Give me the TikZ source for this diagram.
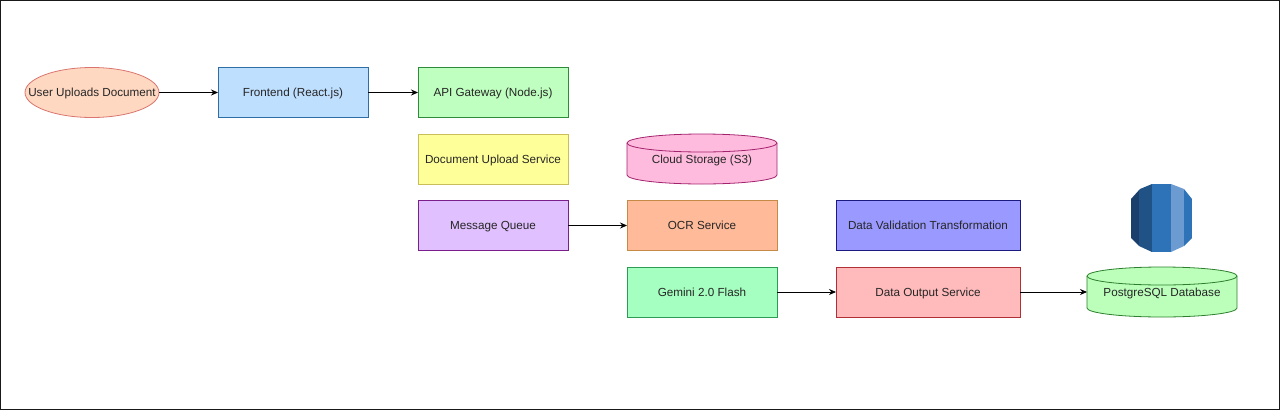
\documentclass[tikz,border=0pt]{standalone}
\usepackage{fontspec}
\setmainfont{Liberation Sans}
\usepackage{tikz}
\usetikzlibrary{backgrounds, positioning, shapes.geometric, arrows.meta}
\definecolor{icondark}{HTML}{1B3F6B}
\definecolor{iconmid}{HTML}{205286}
\definecolor{iconblue}{HTML}{2E73B8}
\definecolor{iconlight}{HTML}{6C9BD2}
\definecolor{userfill}{HTML}{FFD8C2}
\definecolor{userline}{HTML}{D9756E}
\definecolor{frontfill}{HTML}{BFDFFF}
\definecolor{frontline}{HTML}{2F6EA5}
\definecolor{apifill}{HTML}{BFFFBF}
\definecolor{apiline}{HTML}{2E8B3A}
\definecolor{uploadfill}{HTML}{FFFF99}
\definecolor{uploadline}{HTML}{C9BE5A}
\definecolor{queuefill}{HTML}{E0C0FF}
\definecolor{queueline}{HTML}{7B1F8C}
\definecolor{cloudfill}{HTML}{FFBBDD}
\definecolor{cloudline}{HTML}{A3226E}
\definecolor{ocrfill}{HTML}{FFBB99}
\definecolor{ocrline}{HTML}{C58A45}
\definecolor{geminifill}{HTML}{A5FFC0}
\definecolor{geminiline}{HTML}{2E9B55}
\definecolor{validfill}{HTML}{9999FF}
\definecolor{validline}{HTML}{1A1A80}
\definecolor{outputfill}{HTML}{FFBBBB}
\definecolor{outputline}{HTML}{B03035}
\definecolor{pgfill}{HTML}{BBFFBB}
\definecolor{pgline}{HTML}{2D7F2D}
\tikzset{
  boxnode/.style={draw, line width=0.8pt, minimum width=150pt, minimum height=50pt, inner sep=0pt, outer sep=0pt,
                  text height=8.5pt, text depth=0pt, font=\fontsize{11.7}{14}\selectfont, text=black!85},
  dbnode/.style={boxnode, draw=none},
  dbshape/.style={line width=0.8pt},
  link/.style={-{Stealth[length=7pt,width=6pt]}, line width=0.8pt, black}
}
% cylinder behind a named node: node, stroke, fill
\newcommand{\dbdraw}[3]{
  \draw[dbshape, draw=#2, fill=#3] ([yshift=-9pt]#1.north west)
    arc[start angle=180, end angle=0, x radius=75pt, y radius=9pt]
    -- ([yshift=9pt]#1.south east)
    arc[start angle=0, end angle=-180, x radius=75pt, y radius=9pt] -- cycle;
  \draw[dbshape, draw=#2] ([yshift=-9pt]#1.north west)
    arc[start angle=180, end angle=360, x radius=75pt, y radius=9pt];
}
\begin{document}
\begin{tikzpicture}[x=1pt, y=1pt]
\useasboundingbox (0,0) rectangle (1280,-410);
\node[draw=black!90, line width=1.4pt, minimum width=1279pt, minimum height=409pt, inner sep=0pt] (frame) at (640,-205) {};
\node[boxnode, ellipse, inner xsep=-18pt, draw=userline, fill=userfill, minimum width=134pt] (user) at (92,-92.5) {User Uploads Document};
%
\node[boxnode, draw=frontline, fill=frontfill, right=59pt of user] (front) {Frontend (React.js)};
\node[boxnode, draw=apiline, fill=apifill, right=50pt of front] (api) {API Gateway (Node.js)};
\node[boxnode, draw=uploadline, fill=uploadfill, below=16.5pt of api] (upload) {Document Upload Service};
\node[boxnode, draw=queueline, fill=queuefill, below=16.5pt of upload] (queue) {Message Queue};
%
\node[dbnode, right=59pt of upload] (cloud) {Cloud Storage (S3)};
\node[boxnode, draw=ocrline, fill=ocrfill, right=59pt of queue] (ocr) {OCR Service};
\node[boxnode, draw=geminiline, fill=geminifill, below=16.5pt of ocr] (gemini) {Gemini 2.0 Flash};
%
\node[boxnode, minimum width=184pt, draw=validline, fill=validfill, right=59pt of ocr] (valid) {Data Validation Transformation};
\node[boxnode, minimum width=184pt, draw=outputline, fill=outputfill, right=59pt of gemini] (output) {Data Output Service};
\node[dbnode, right=67pt of output] (pg) {PostgreSQL Database};
%
\begin{scope}[on background layer]
\dbdraw{cloud}{cloudline}{cloudfill}
\dbdraw{pg}{pgline}{pgfill}
\end{scope}
%
\begin{scope}
\clip (1131,-199) -- (1140,-189) -- (1152,-184) -- (1171,-184) -- (1184,-189) -- (1192,-199)
  -- (1192,-238) -- (1184,-246) -- (1171,-252) -- (1152,-252) -- (1139,-246) -- (1131,-238) -- cycle;
\fill[icondark] (1131,-184) rectangle (1139,-252);
\fill[iconmid] (1139,-184) rectangle (1152,-252);
\fill[iconblue] (1152,-184) rectangle (1171,-252);
\fill[iconlight] (1171,-184) rectangle (1184,-252);
\fill[iconblue] (1184,-184) rectangle (1192,-252);
\end{scope}
%
\draw[link] (user) -- (front);
\draw[link] (front) -- (api);
\draw[link] (queue) -- (ocr);
\draw[link] (gemini) -- (output);
\draw[link] (output) -- (pg);
\end{tikzpicture}
\end{document}
